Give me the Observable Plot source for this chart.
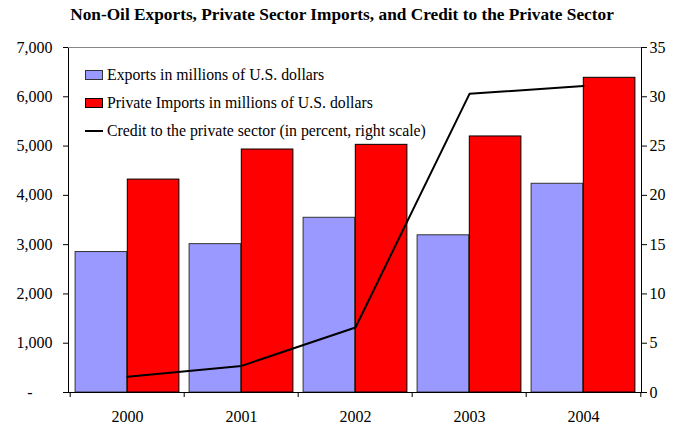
<!DOCTYPE html>
<html><head><meta charset="utf-8">
<script src="https://cdn.jsdelivr.net/npm/d3@7"></script>
<script src="https://cdn.jsdelivr.net/npm/@observablehq/plot@0.6"></script>
<style>
body{margin:0;background:#fff;font-family:"Liberation Serif","Times New Roman",serif;}
#wrap{position:relative;width:684px;height:425px;overflow:hidden}
#title{position:absolute;left:0;top:0;width:684px;text-align:center;font-weight:bold;font-size:17.3px;line-height:30px;height:30px;color:#000}
#chart{position:absolute;left:0;top:30px}
#chart svg text{font-family:"Liberation Serif","Times New Roman",serif !important;font-size:16px !important;}
#legend{position:absolute;left:85px;top:61px;font-size:15.8px;color:#000}
.row{display:flex;align-items:center;height:28px;white-space:nowrap}
.sw{width:16px;height:8px;margin-right:4px;border:1px solid #000}
.ln{width:18px;height:0;border-top:2px solid #000;margin-right:4px}
</style></head><body>
<div id="wrap"><div id="title"></div><div id="chart"></div><div id="legend"></div></div>
<script>
const titleText = "Non-Oil Exports, Private Sector Imports, and Credit to the Private Sector";
const years = ["2000", "2001", "2002", "2003", "2004"];
const exportsVals = [2850, 3010, 3545, 3190, 4235];
const importsVals = [4320, 4930, 5025, 5195, 6385];
const creditVals = [1.6, 2.7, 6.6, 30.3, 31.1];
const leftTicks = [0, 1000, 2000, 3000, 4000, 5000, 6000, 7000];
const rightTicks = [0, 5, 10, 15, 20, 25, 30, 35];
const seriesNames = [
  "Exports in millions of U.S. dollars",
  "Private Imports in millions of U.S. dollars",
  "Credit to the private sector (in percent, right scale)"
];
const seriesColors = ["#9999FF", "#FF0000", "#000000"];
const barStrokes = ["#333333", "#000000"];

document.getElementById("title").textContent = titleText;

const W = 684, H = 395;
const mL = 68, mR = 43, mT = 17, mB = 33;
const bw = (W - mL - mR) / years.length;
const factor = leftTicks[leftTicks.length - 1] / rightTicks[rightTicks.length - 1];

const expData = years.map((y, i) => ({year: y, value: exportsVals[i]}));
const impData = years.map((y, i) => ({year: y, value: importsVals[i]}));
const crdData = years.map((y, i) => ({year: y, credit: creditVals[i]}));

const ff = '"Liberation Serif","Times New Roman",serif';
const fmt = d3.format(",");
const chart = Plot.plot({
  width: W, height: H,
  marginLeft: mL, marginRight: mR, marginTop: mT, marginBottom: mB,
  style: {fontFamily: ff, fontSize: "16px", color: "#000", background: "#fff", overflow: "visible"},
  x: {type: "band", domain: years, padding: 0, axis: null},
  y: {domain: [0, leftTicks[leftTicks.length - 1]], axis: null},
  marks: [
    Plot.barY(expData, {x: "year", y: "value", fill: seriesColors[0], stroke: barStrokes[0], strokeWidth: 1, insetLeft: 5.1, insetRight: bw / 2}),
    Plot.barY(impData, {x: "year", y: "value", fill: seriesColors[1], stroke: barStrokes[1], strokeWidth: 1, insetLeft: bw / 2, insetRight: 5.1}),
    Plot.line(crdData, {x: "year", y: d => d.credit * factor, stroke: seriesColors[2], strokeWidth: 2}),
    Plot.frame({stroke: "#000", strokeWidth: 1}),
    Plot.ruleY([leftTicks[leftTicks.length - 1]], {stroke: "#888", strokeWidth: 1}),
    Plot.axisY(leftTicks, {anchor: "left", tickSize: 5, tickPadding: 11, label: null, stroke: "#000", fontSize: 16, fontFamily: ff,
      tickFormat: d => d === 0 ? "-\u00a0\u00a0\u00a0\u00a0\u00a0" : fmt(d)}),
    Plot.axisY(rightTicks.map(v => v * factor), {anchor: "right", tickSize: 5, tickPadding: 3, label: null, stroke: "#000", fontSize: 16, fontFamily: ff,
      tickFormat: d => String(d / factor)}),
    Plot.axisX(years, {anchor: "bottom", tickSize: 5, tickFormat: () => "", label: null, dx: -bw / 2, stroke: "#000"}),
    Plot.axisX([years[years.length - 1]], {anchor: "bottom", tickSize: 5, tickFormat: () => "", label: null, dx: bw / 2, stroke: "#000"}),
    Plot.axisX(years, {anchor: "bottom", tickSize: 0, tickPadding: 18, label: null, fontSize: 16, fontFamily: ff})
  ]
});
document.getElementById("chart").appendChild(chart);

const leg = document.getElementById("legend");
seriesNames.forEach((name, i) => {
  const row = document.createElement("div");
  row.className = "row";
  const mk = document.createElement("div");
  if (i < 2) {
    mk.className = "sw";
    mk.style.background = seriesColors[i];
    mk.style.borderColor = barStrokes[i];
  } else {
    mk.className = "ln";
    mk.style.borderTopColor = seriesColors[i];
  }
  const tx = document.createElement("span");
  tx.textContent = name;
  row.appendChild(mk);
  row.appendChild(tx);
  leg.appendChild(row);
});
</script>
</body></html>
